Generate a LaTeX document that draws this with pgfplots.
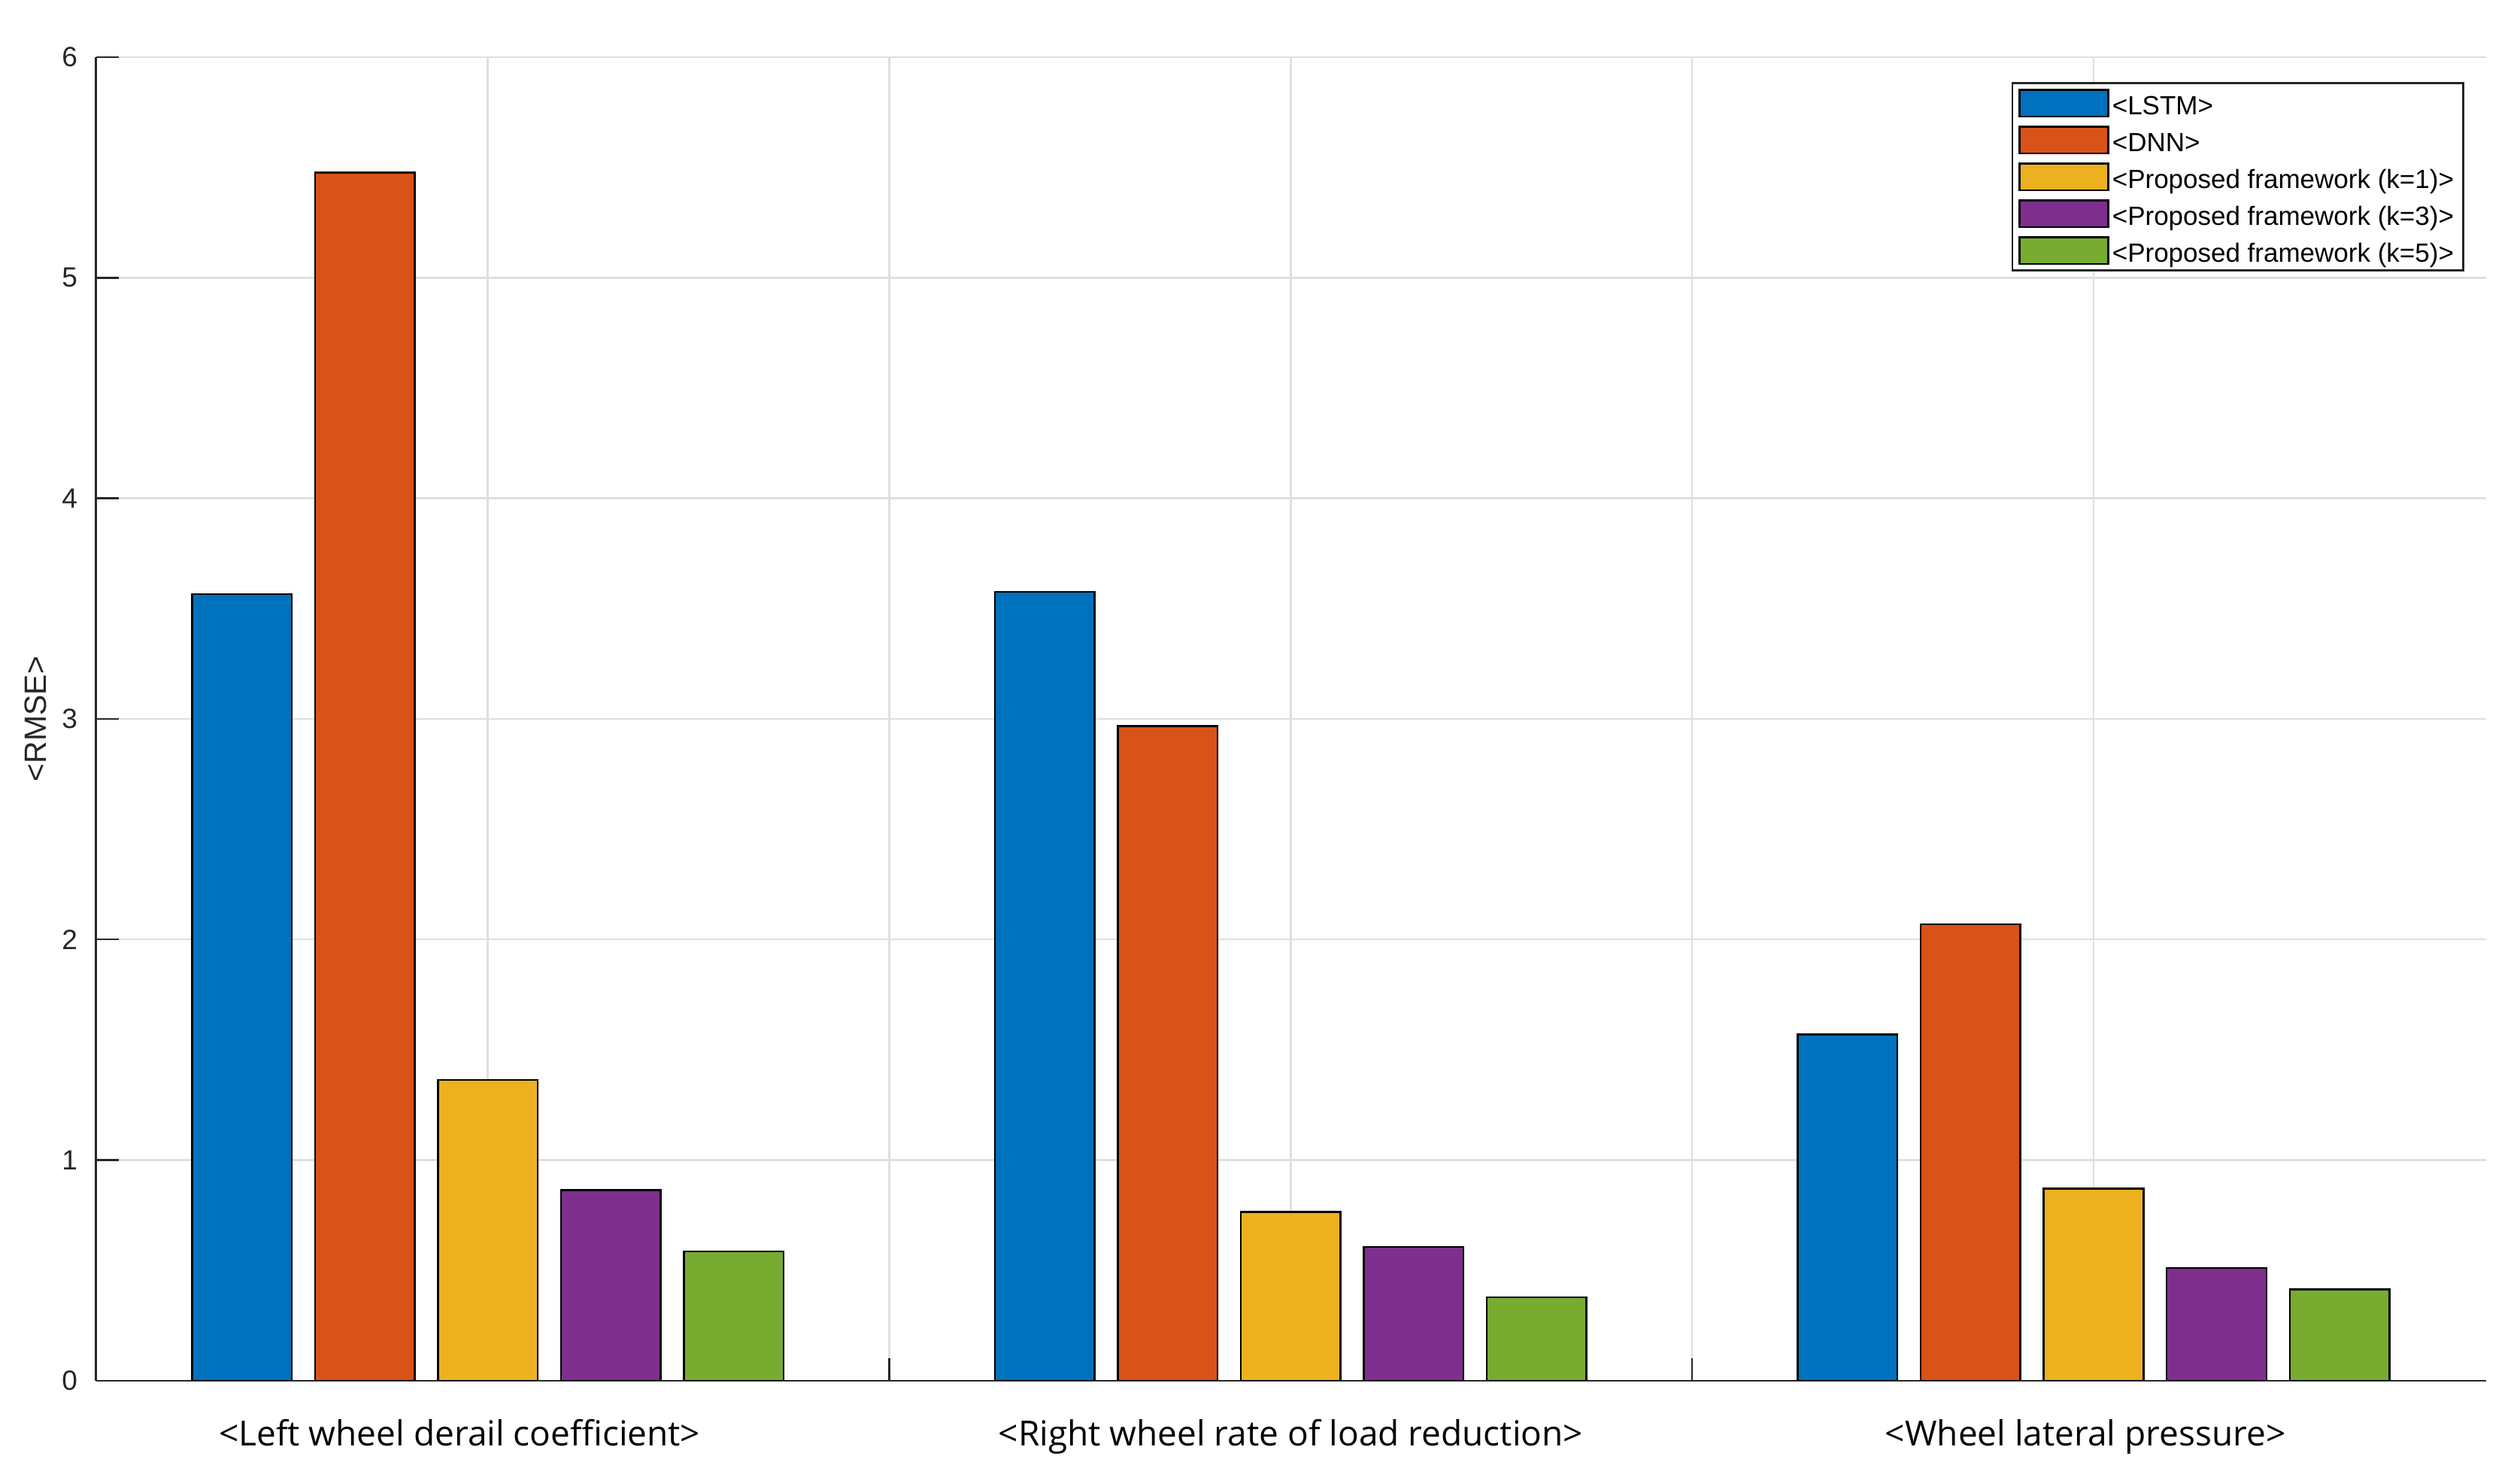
\documentclass[border=0pt]{standalone}
\usepackage{pgfplots}
\pgfplotsset{compat=1.18}
\usepackage{fontspec}
\setmainfont{Liberation Sans}
\newfontfamily\catfont{Open Sans}

\definecolor{mblue}{HTML}{0072BD}
\definecolor{morange}{HTML}{D95319}
\definecolor{myellow}{HTML}{EDB120}
\definecolor{mpurple}{HTML}{7E2F8E}
\definecolor{mgreen}{HTML}{77AC30}
\definecolor{axgray}{HTML}{262626}
\definecolor{gridgray}{HTML}{DFDFDF}

% RMSE per target: left derail coeff, right load reduction, lateral pressure
\pgfplotstableread{
x  lstm   dnn    kone   kthree kfive
1  3.565  5.477  1.364  0.864  0.585
2  3.575  2.967  0.765  0.606  0.377
3  1.569  2.069  0.871  0.511  0.414
}\rmse

\begin{document}
\begin{tikzpicture}
\begin{axis}[
  scale only axis, width=635.7pt, height=352pt,
  xmin=0.512, xmax=3.489, ymin=0, ymax=6,
  ybar, bar width=0.1242,
  axis x line*=bottom, axis y line*=left,
  axis line style={draw=axgray, line width=0.5pt},
  tick align=inside, major tick length=6pt,
  tick style={draw=axgray, line width=0.5pt},
  xtick={1,1.5,2,2.5,3},
  xticklabels={{<Left wheel derail coefficient>\hspace*{15pt}},{},{<Right wheel rate of load reduction>},{},{<Wheel lateral pressure>\hspace*{4.3pt}}},
  xticklabel style={font=\catfont\fontsize{9.2}{11}\selectfont, text=black, anchor=base, yshift=-17.4pt},
  ytick={0,1,2,3,4,5,6},
  yticklabel style={font=\fontsize{7.4}{9}\selectfont, text=axgray, xshift=-1.4pt},
  /pgf/number format/assume math mode=true,
  grid=major, grid style={draw=gridgray, line width=0.5pt},
  ylabel={<RMSE>},
  ylabel style={font=\fontsize{8.2}{10}\selectfont, text=axgray, at={(axis description cs:-0.0254,0.5)}, anchor=center},
  legend image code/.code={\draw[#1, line width=0.5pt] (0pt,-3.55pt) rectangle (23.6pt,3.55pt);},
  legend cell align=left,
  legend style={at={(axis description cs:0.9908,0.981)}, anchor=north east,
    draw=axgray, line width=0.5pt, fill=white,
    font=\fontsize{7}{8}\selectfont,
    inner xsep=1.7pt, inner ysep=1.1pt, row sep=1.4pt,
    nodes={inner sep=0.8pt, text height=6.4pt, text depth=0.4pt}},
]
\addplot[fill=mblue, draw=black, line width=0.5pt, bar shift=-0.3064] table[x=x, y=lstm] {\rmse};
\addplot[fill=morange, draw=black, line width=0.5pt, bar shift=-0.1532] table[x=x, y=dnn] {\rmse};
\addplot[fill=myellow, draw=black, line width=0.5pt, bar shift=0] table[x=x, y=kone] {\rmse};
\addplot[fill=mpurple, draw=black, line width=0.5pt, bar shift=0.1532] table[x=x, y=kthree] {\rmse};
\addplot[fill=mgreen, draw=black, line width=0.5pt, bar shift=0.3064] table[x=x, y=kfive] {\rmse};
\legend{<LSTM>, <DNN>, <Proposed framework (k=1)>, <Proposed framework (k=3)>, <Proposed framework (k=5)>}
\end{axis}
\path ([xshift=-25.54pt, yshift=-23.2pt]current axis.south west) rectangle ([xshift=9pt, yshift=15.2pt]current axis.north east);
\end{tikzpicture}
\end{document}
